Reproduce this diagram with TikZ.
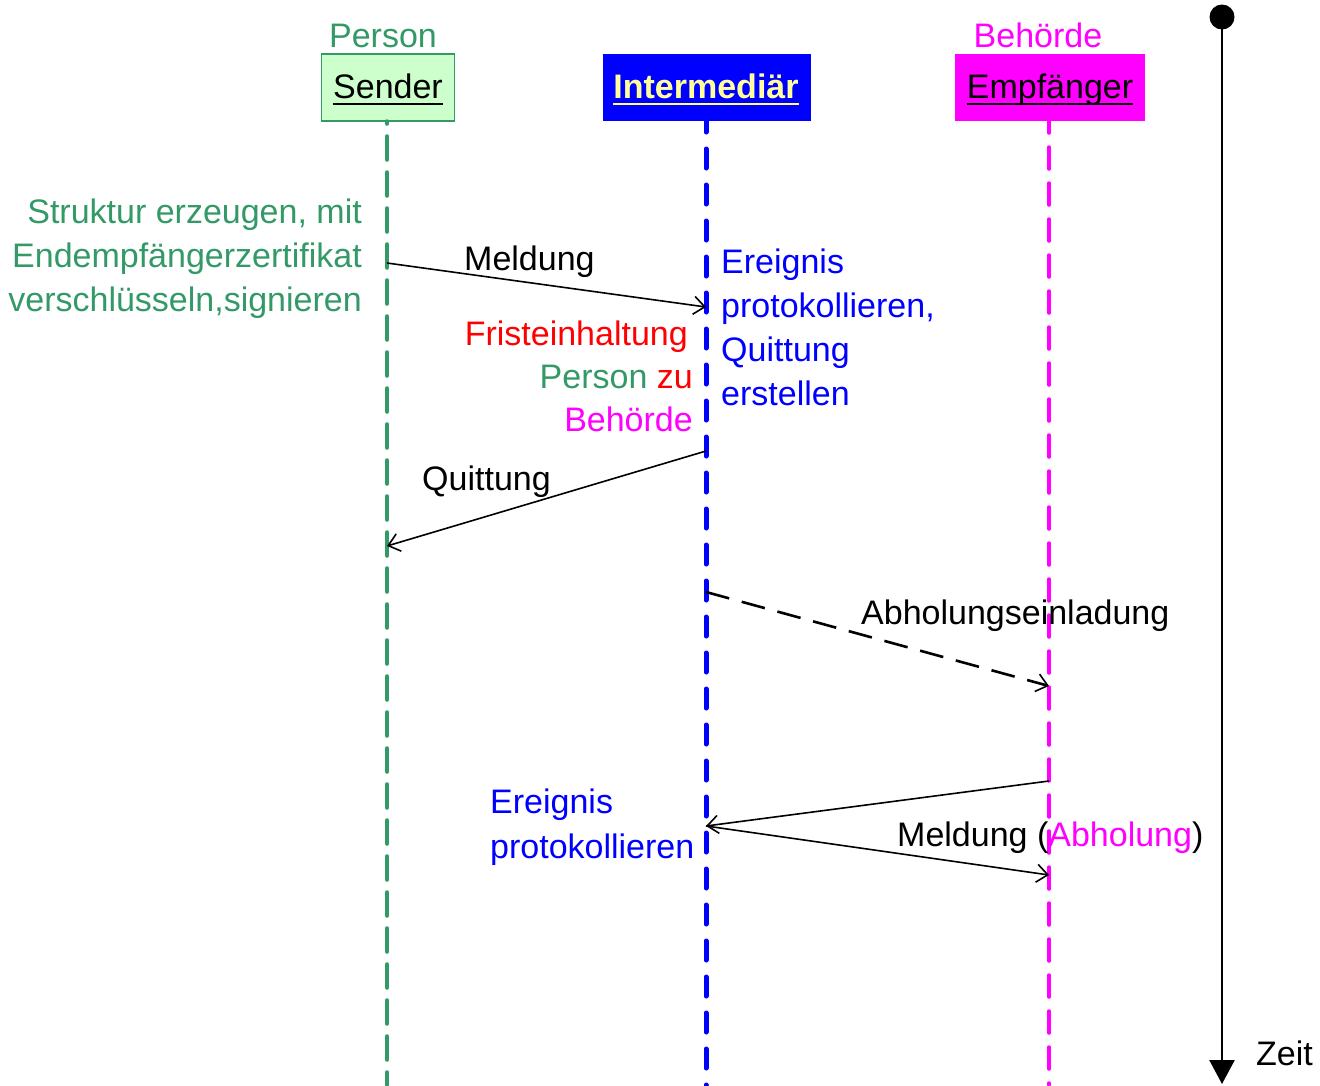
\documentclass[tikz,border=0pt]{standalone}
\usepackage{fontspec}
\setmainfont{Liberation Sans}
\usetikzlibrary{arrows.meta}
\definecolor{pgreen}{HTML}{339966}
\definecolor{plight}{HTML}{CCFFCC}
\definecolor{pblue}{HTML}{0000FF}
\definecolor{pmag}{HTML}{FF00FF}
\definecolor{pred}{HTML}{FF0000}
\definecolor{pyellow}{HTML}{FFFF99}
\begin{document}
\begin{tikzpicture}[x=1pt,y=-1pt,
  txt/.style={inner sep=0pt, font=\fontsize{34}{44}\selectfont},
  lw/.style={txt, anchor=base west},
  le/.style={txt, anchor=base east},
  lc/.style={txt, anchor=base},
  headbox/.style={inner sep=0pt, minimum height=67pt},
  lifeline/.style={dash pattern=on 24pt off 12pt, line cap=round},
  msg/.style={line width=1.6pt, -{Straight Barb[length=11pt,width=18pt,line width=1.6pt]}},
  uline/.style={line width=2.2pt}]
\useasboundingbox (0,0) rectangle (1320,1085);

% actor heads
\node[headbox, draw=pgreen, fill=plight, line width=1.5pt, minimum width=133pt] (sbox) at (388,87.5) {};
\node[headbox, fill=pblue, minimum width=208pt] (ibox) at (707,87.5) {};
\node[headbox, fill=pmag, minimum width=190pt] (ebox) at (1050,87.5) {};

\node[lc, text=pgreen] (person) at (383,47) {Person};
\node[lc, text=pmag] (behoerde) at (1038,47) {Behörde};

\node[lc] (sender) at (388,98) {Sender};
\node[lc, text=pyellow, font=\fontsize{34}{44}\selectfont\bfseries] (inter) at (706,98) {Intermediär};
\node[lc] (empf) at (1050,98) {Empfänger};
\draw[uline] ([yshift=-6pt]sender.base west) -- ([yshift=-6pt]sender.base east);
\draw[uline, pyellow] ([yshift=-6pt]inter.base west) -- ([yshift=-6pt]inter.base east);
\draw[uline] ([yshift=-6pt]empf.base west) -- ([yshift=-6pt]empf.base east);

% lifelines
\coordinate (send) at (387,1085);
\coordinate (iend) at (706,1085);
\coordinate (eend) at (1049,1085);
\draw[lifeline, pgreen, line width=3.5pt, dash phase=21pt] (387,121) -- (send);
\draw[lifeline, pblue, line width=5pt, dash pattern=on 19pt off 17pt, dash phase=8pt] (706,121) -- (iend);
\draw[lifeline, pmag, line width=3.5pt, dash pattern=on 22pt off 14pt, dash phase=10pt] (1049,121) -- (eend);

% time axis
\node[circle, fill=black, minimum size=25pt, inner sep=0pt] (tdot) at (1222,17) {};
\coordinate (tend) at (1222,1084);
\draw[line width=2.5pt, -{Triangle[length=24pt,width=25pt]}] (tdot.center) -- (tend);
\node[lw] (zeit) at (1256,1065) {Zeit};

% message end points on the lifelines
\coordinate (m1a) at (387,263);
\coordinate (m1b) at (706,307);
\coordinate (q1a) at (706,451);
\coordinate (q1b) at (387,546);
\coordinate (a1a) at (706,592);
\coordinate (a1b) at (1049,686);
\coordinate (r1a) at (1049,781);
\coordinate (r1b) at (706,826);
\coordinate (r2b) at (1049,875);

\draw[msg] (m1a) -- (m1b);
\draw[msg] (q1a) -- (q1b);
\draw[msg, line width=2.6pt, dash pattern=on 24pt off 13pt] (a1a) -- (a1b);
\draw[msg] (r1a) -- (r1b);
\draw[msg] (r1b) -- (r2b);

% message labels
\node[lw] (lmeld) at (464,270) {Meldung};
\node[lw] (lquit) at (422,490) {Quittung};
\node[lw] (labh) at (861,624) {Abholungseinladung};
\node[lw] (lmeld2) at (897,846) {Meldung (\textcolor{pmag}{Abholung})};

% sender activity
\node[le, text=pgreen] (s1) at (362,223) {Struktur erzeugen, mit};
\node[le, text=pgreen] (s2) at (362,267) {Endempfängerzertifikat};
\node[le, text=pgreen] (s3) at (362,311) {verschlüsseln,signieren};

% intermediary activity
\node[lw, text=pblue] (i1) at (721,273) {Ereignis};
\node[lw, text=pblue] (i2) at (721,317) {protokollieren,};
\node[lw, text=pblue] (i3) at (721,361) {Quittung};
\node[lw, text=pblue] (i4) at (721,405) {erstellen};

\node[le, text=pred] (f1) at (688,345) {Fristeinhaltung};
\node[le] (f2) at (693,388) {\textcolor{pgreen}{Person} \textcolor{pred}{zu}};
\node[le, text=pmag] (f3) at (693,431) {Behörde};

\node[lw, text=pblue] (p1) at (490,813) {Ereignis};
\node[lw, text=pblue] (p2) at (490,858) {protokollieren};
\end{tikzpicture}
\end{document}
